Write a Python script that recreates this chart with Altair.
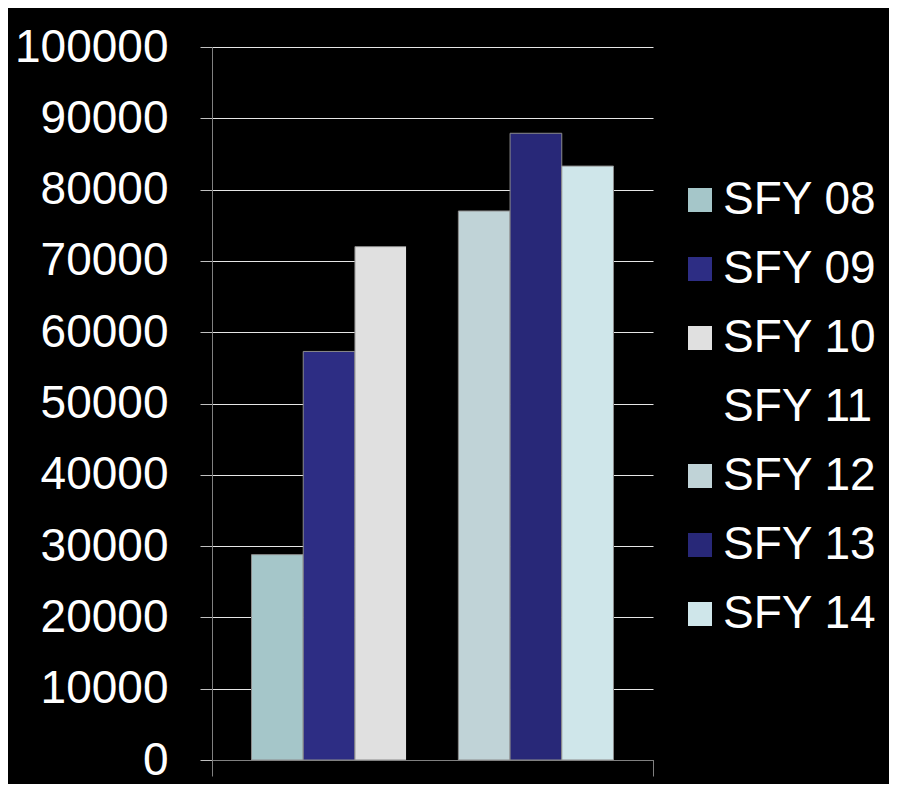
import altair as alt
import pandas as pd

series = ["SFY 08", "SFY 09", "SFY 10", "SFY 11", "SFY 12", "SFY 13", "SFY 14"]
values = [28800, 57300, 72000, 75000, 77000, 87900, 83300]
fill_colors = ["#a5c6c9", "#2d2d84", "#e0e0e0", "#000000", "#c0d3d7", "#282878", "#cfe6ea"]
stroke_colors = ["#8c8c8c", "#8c8c8c", "#8c8c8c", "#000000", "#8c8c8c", "#8c8c8c", "#8c8c8c"]

df = pd.DataFrame({"cat": [""] * len(series), "series": series, "value": values})

FONT = "Liberation Sans"

chart = (
    alt.Chart(df)
    .mark_bar(strokeWidth=1)
    .encode(
        x=alt.X(
            "cat:N",
            title=None,
            scale=alt.Scale(paddingInner=0, paddingOuter=0),
            axis=alt.Axis(
                labels=False,
                tickBand="extent",
                tickSize=16,
                tickColor="#808080",
                domainColor="#808080",
                zindex=1,
            ),
        ),
        xOffset=alt.XOffset(
            "series:N",
            sort=series,
            scale=alt.Scale(paddingInner=0, paddingOuter=0.764),
        ),
        y=alt.Y(
            "value:Q",
            title=None,
            scale=alt.Scale(domain=[0, 100000], nice=False),
            axis=alt.Axis(
                values=[0, 10000, 20000, 30000, 40000, 50000, 60000, 70000, 80000, 90000, 100000],
                format="d",
                labelFont=FONT,
                labelFontSize=46,
                labelColor="#ffffff",
                labelPadding=32,
                tickSize=12,
                tickColor="#bfbfbf",
                gridColor="#e6e6e6",
                domainColor="#808080",
            ),
        ),
        fill=alt.Fill(
            "series:N",
            sort=series,
            scale=alt.Scale(domain=series, range=fill_colors),
            legend=alt.Legend(
                title=None,
                orient="none",
                legendX=465,
                legendY=130,
                symbolType="square",
                symbolSize=576,
                symbolStrokeWidth=0,
                labelFont=FONT,
                labelFontSize=46,
                labelColor="#ffffff",
                labelOffset=0,
                labelLimit=300,
                rowPadding=23,
                padding=0,
            ),
        ),
        stroke=alt.Stroke(
            "series:N",
            sort=series,
            scale=alt.Scale(domain=series, range=stroke_colors),
            legend=None,
        ),
    )
    .properties(
        width=441,
        height=713,
        background="#000000",
        padding={"left": 204, "top": 39, "right": 236, "bottom": 24},
        autosize=alt.AutoSizeParams(type="none"),
    )
    .configure_view(stroke=None)
)

chart.save("out.html", embed_options={"renderer": "svg", "actions": False})
